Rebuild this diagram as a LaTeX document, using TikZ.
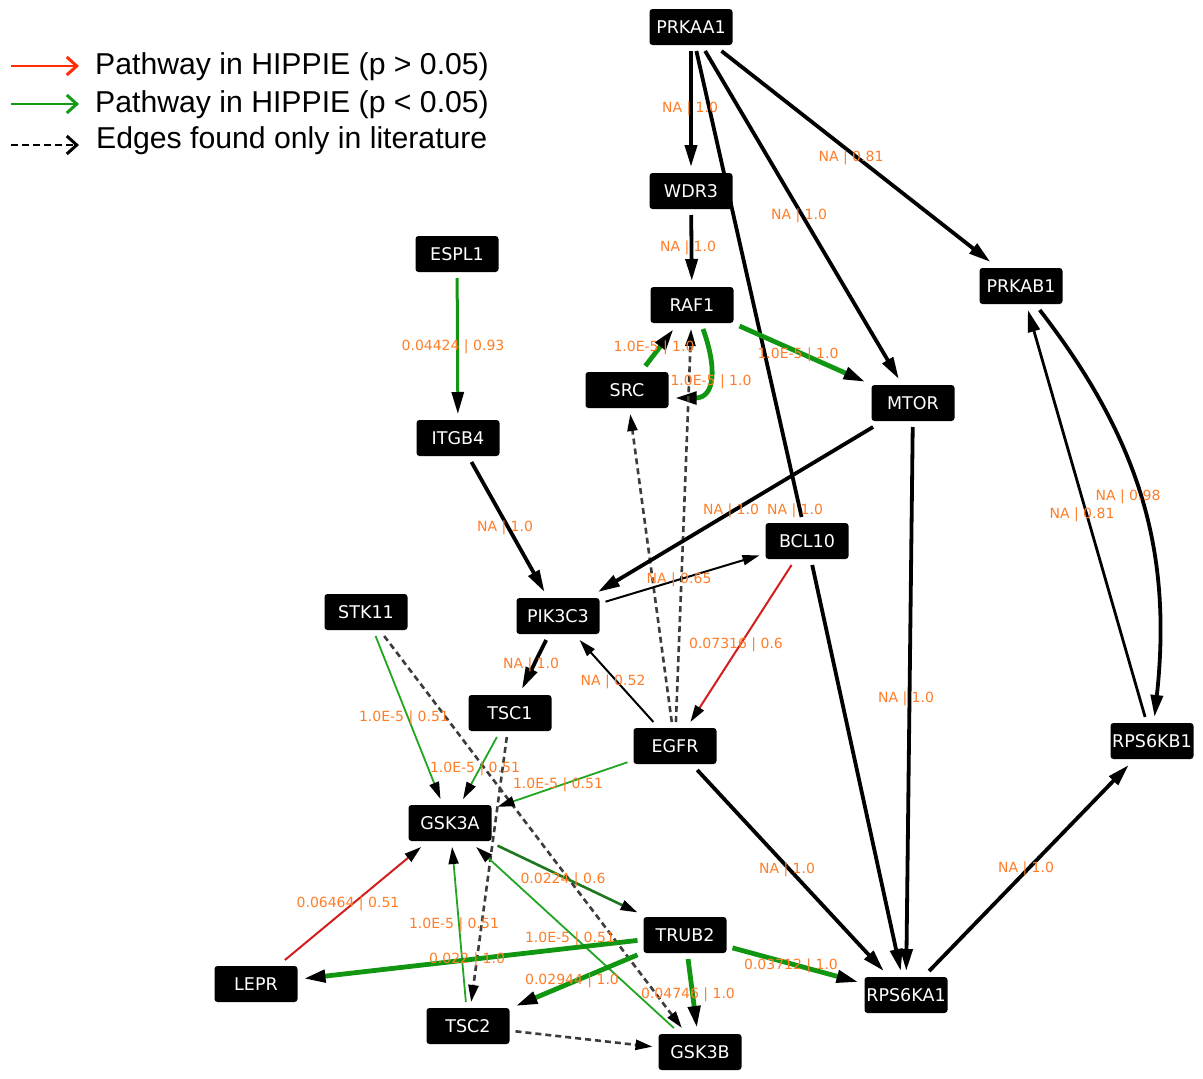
\documentclass[tikz,border=0pt]{standalone}
\usepackage{fontspec}
\newfontfamily\dvs{DejaVu Sans}
\newfontfamily\lbs{Liberation Sans}
\usetikzlibrary{arrows.meta,backgrounds}
\definecolor{lblc}{RGB}{255,125,40}
\definecolor{gk}{RGB}{17,150,17}
\definecolor{gt}{RGB}{34,165,34}
\definecolor{gd}{RGB}{30,120,30}
\definecolor{rdc}{RGB}{210,30,30}
\definecolor{dshc}{RGB}{60,60,60}
\definecolor{legred}{RGB}{255,45,10}
\definecolor{leggreen}{RGB}{20,155,20}
\tikzset{
 gene/.style={fill=black, rounded corners=3pt, minimum width=83pt, minimum height=36pt,
   inner sep=0pt, outer sep=6pt, text=white, font=\dvs\fontsize{17.5}{20}\selectfont},
 lbl/.style={text=lblc, font=\dvs\fontsize{14}{16}\selectfont, inner sep=0pt},
 legtext/.style={anchor=base west, inner sep=0pt, font=\lbs\fontsize{30.2}{32}\selectfont},
 tipA/.tip={Triangle[length=22pt,width=12pt,color=black]},
 tipB/.tip={Triangle[length=17pt,width=10pt,color=black]},
 blk/.style={line width=3.8pt, black, -tipA},
 blknoa/.style={line width=3.8pt, black},
 blkmid/.style={line width=2.8pt, black, -tipA},
 blkthin/.style={line width=2pt, black, -tipB},
 gthk/.style={line width=4.8pt, gk, -tipA},
 gmid/.style={line width=3pt, gk, -tipA},
 gthn/.style={line width=1.8pt, gt, -tipB},
 gdk/.style={line width=2.6pt, gd, -tipB},
 rdl/.style={line width=2pt, rdc, -tipB},
 dsh/.style={line width=2.6pt, dshc, dash pattern=on 6pt off 4pt, -tipB},
 legtip/.tip={Straight Barb[length=10pt,width=18pt,line width=3pt]},
}
\begin{document}
\begin{tikzpicture}[x=1pt,y=1pt]
\useasboundingbox (0,0) rectangle (1203,-1079);

% legend
\coordinate (l1a) at (11,-66);  \coordinate (l1b) at (79,-66);
\coordinate (l2a) at (11,-104); \coordinate (l2b) at (79,-104);
\coordinate (l3a) at (11,-145); \coordinate (l3b) at (79,-145);
\draw[line width=2.8pt, legred, -legtip] (l1a) -- (l1b);
\draw[line width=2.8pt, leggreen, -legtip] (l2a) -- (l2b);
\draw[line width=2.8pt, black, dash pattern=on 7pt off 4pt, -legtip] (l3a) -- (l3b);
\node[legtext] (lg1) at (95,-74) {Pathway in HIPPIE (p > 0.05)};
\node[legtext] (lg2) at (95,-112) {Pathway in HIPPIE (p < 0.05)};
\node[legtext] (lg3) at (96,-148) {Edges found only in literature};

% nodes
\node[gene] (PRKAA1) at (691,-27) {PRKAA1};
\node[gene] (WDR3) at (691,-191) {WDR3};
\node[gene] (RAF1) at (692,-305) {RAF1};
\node[gene] (SRC) at (627,-390) {SRC};
\node[gene] (MTOR) at (913,-403) {MTOR};
\node[gene] (PRKAB1) at (1021,-286) {PRKAB1};
\node[gene] (ESPL1) at (457,-254) {ESPL1};
\node[gene] (ITGB4) at (458,-438) {ITGB4};
\node[gene] (BCL10) at (807,-541) {BCL10};
\node[gene] (PIK3C3) at (558,-616) {PIK3C3};
\node[gene] (STK11) at (366,-612) {STK11};
\node[gene] (TSC1) at (510,-713) {TSC1};
\node[gene] (EGFR) at (675,-746) {EGFR};
\node[gene] (GSK3A) at (450,-823) {GSK3A};
\node[gene] (RPS6KB1) at (1152,-741) {RPS6KB1};
\node[gene] (TRUB2) at (685,-935) {TRUB2};
\node[gene] (LEPR) at (256,-984) {LEPR};
\node[gene] (TSC2) at (468,-1026) {TSC2};
\node[gene] (GSK3B) at (700,-1052) {GSK3B};
\node[gene] (RPS6KA1) at (906,-995) {RPS6KA1};

% edges
\begin{scope}[on background layer]
\fill[white] (0,0) rectangle (1203,-1079);
\draw[blk] (PRKAA1) -- (WDR3);
\draw[blknoa] (PRKAA1) -- (BCL10);
\draw[blk] (PRKAA1) -- (MTOR);
\draw[blk] (PRKAA1) -- (PRKAB1);
\draw[blk] (WDR3) -- (RAF1);
\draw[gthk] (SRC) -- (RAF1);
\draw[gthk] ([xshift=11pt]RAF1.south) to[out=-70,in=0,looseness=1.4] ([yshift=-8pt]SRC.east);
\draw[gthk] (RAF1) -- (MTOR);
\draw[dsh] (EGFR) -- (RAF1);
\draw[dsh] (EGFR) -- (SRC);
\draw[gmid] (ESPL1) -- (ITGB4);
\draw[blk] (ITGB4) -- (PIK3C3);
\draw[blk] (MTOR) -- (PIK3C3);
\draw[blkthin] (PIK3C3) -- (BCL10);
\draw[rdl] (BCL10) -- (EGFR);
\draw[blk] (BCL10) -- (RPS6KA1);
\draw[blk] (MTOR) -- (RPS6KA1);
\draw[blk] (EGFR) -- (RPS6KA1);
\draw[blk] (RPS6KA1) -- (RPS6KB1);
\draw[blk] (PRKAB1) to[bend left=22] (RPS6KB1);
\draw[blkmid] (RPS6KB1) -- (PRKAB1);
\draw[blkthin] (EGFR) -- (PIK3C3);
\draw[blk] (PIK3C3) -- (TSC1);
\draw[gthn] (STK11) -- (GSK3A);
\draw[dsh] (STK11) -- (GSK3B);
\draw[gthn] (TSC1) -- (GSK3A);
\draw[dsh] (TSC1) -- (TSC2);
\draw[gthn] (EGFR) -- (GSK3A);
\draw[rdl] (LEPR) -- (GSK3A);
\draw[gthn] (TSC2) -- (GSK3A);
\draw[gthn] (GSK3B) -- (GSK3A);
\draw[gdk] (GSK3A) -- (TRUB2);
\draw[gthk] (TRUB2) -- (LEPR);
\draw[gthk] (TRUB2) -- (TSC2);
\draw[gthk] (TRUB2) -- (GSK3B);
\draw[gthk] (TRUB2) -- (RPS6KA1);
\draw[dsh] (TSC2) -- (GSK3B);
\end{scope}

% edge labels
\node[lbl] (e1) at (690,-109) {NA | 1.0};
\node[lbl] (e2) at (851,-158) {NA | 0.81};
\node[lbl] (e3) at (799,-216) {NA | 1.0};
\node[lbl] (e4) at (688,-248) {NA | 1.0};
\node[lbl] (e5) at (654,-348) {1.0E-5 | 1.0};
\node[lbl] (e6) at (711,-382) {1.0E-5 | 1.0};
\node[lbl] (e7) at (798,-355) {1.0E-5 | 1.0};
\node[lbl] (e8) at (453,-347) {0.04424 | 0.93};
\node[lbl] (e9) at (505,-528) {NA | 1.0};
\node[lbl] (e10) at (731,-511) {NA | 1.0};
\node[lbl] (e11) at (795,-511) {NA | 1.0};
\node[lbl] (e12) at (679,-580) {NA | 0.65};
\node[lbl] (e13) at (736,-645) {0.07316 | 0.6};
\node[lbl] (e14) at (906,-699) {NA | 1.0};
\node[lbl] (e15) at (787,-870) {NA | 1.0};
\node[lbl] (e16) at (1026,-869) {NA | 1.0};
\node[lbl] (e17) at (1128,-497) {NA | 0.98};
\node[lbl] (e18) at (1082,-515) {NA | 0.81};
\node[lbl] (e19) at (613,-682) {NA | 0.52};
\node[lbl] (e20) at (531,-665) {NA | 1.0};
\node[lbl] (e21) at (404,-718) {1.0E-5 | 0.51};
\node[lbl] (e22) at (475,-769) {1.0E-5 | 0.51};
\node[lbl] (e23) at (558,-785) {1.0E-5 | 0.51};
\node[lbl] (e24) at (348,-904) {0.06464 | 0.51};
\node[lbl] (e25) at (454,-925) {1.0E-5 | 0.51};
\node[lbl] (e26) at (570,-939) {1.0E-5 | 0.51};
\node[lbl] (e27) at (563,-880) {0.0224 | 0.6};
\node[lbl] (e28) at (467,-960) {0.022 | 1.0};
\node[lbl] (e29) at (572,-981) {0.02944 | 1.0};
\node[lbl] (e30) at (688,-995) {0.04746 | 1.0};
\node[lbl] (e31) at (791,-966) {0.03712 | 1.0};
\end{tikzpicture}
\end{document}
